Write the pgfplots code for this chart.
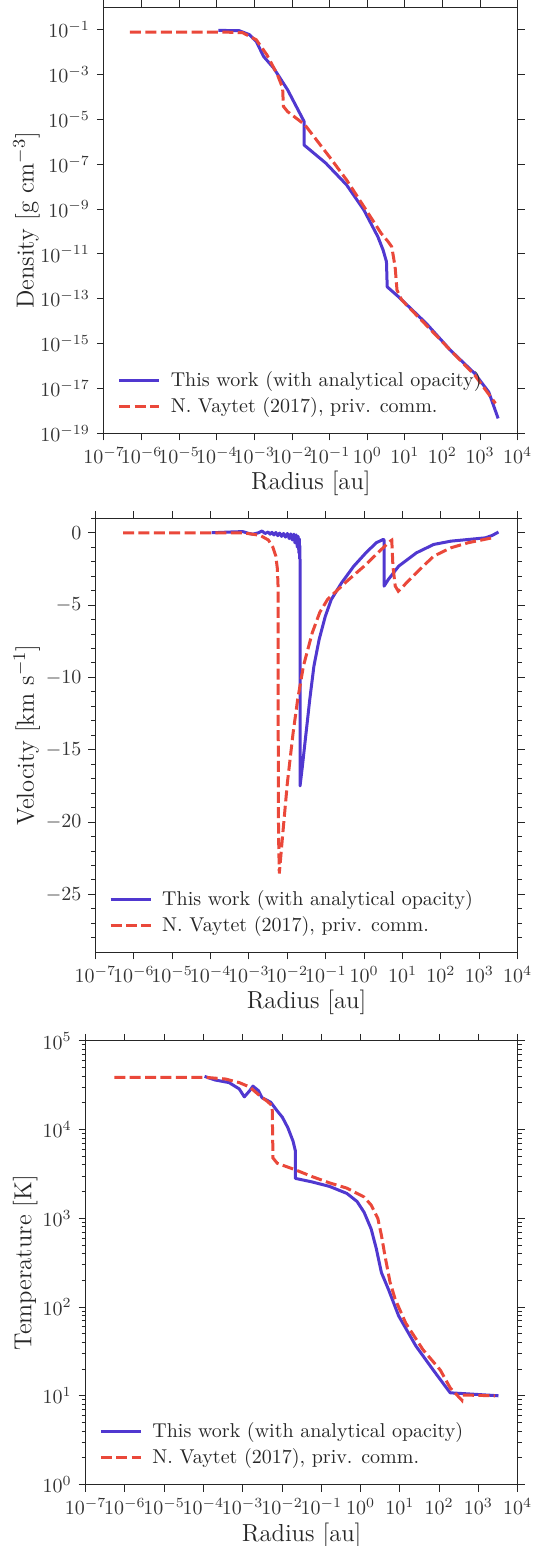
\documentclass[border=0pt]{standalone}
\usepackage{pgfplots}
\pgfplotsset{compat=1.18}
\definecolor{cblue}{RGB}{80,56,208}
\definecolor{cred}{RGB}{234,72,58}
\pgfplotsset{
  every axis/.append style={
    scale only axis,
    tick align=outside,
    major tick length=3.5pt,
    minor tick length=2pt,
    axis line style={black!85, line width=0.5pt},
    tick style={black!85, line width=0.5pt},
    tick label style={font=\fontsize{10}{12}\selectfont, text=black!80},
    label style={font=\fontsize{12.3}{14}\selectfont, text=black!85},
    legend style={at={(0,0)}, anchor=south west,
      xshift=6.7pt, yshift=6.8pt, draw=none, fill=none,
      inner xsep=0pt, inner ysep=0pt,
      font=\fontsize{10}{12}\selectfont, text=black!85, column sep=3pt},
    legend cell align=left,
  },
}
\begin{document}
\begin{tikzpicture}
\useasboundingbox (0,0) rectangle (270.5pt,773pt);
% ---------------- Density ----------------
\begin{axis}[
  at={(52pt,556.35pt)}, anchor=south west,
  width=206.85pt, height=213pt,
  xmode=log, ymode=log,
  xmin=1e-7, xmax=1e4, ymin=1e-19, ymax=1,
  xtick={1e-7,1e-6,1e-5,1e-4,1e-3,1e-2,1e-1,1,1e1,1e2,1e3,1e4},
  ytick={1e-19,1e-17,1e-15,1e-13,1e-11,1e-9,1e-7,1e-5,1e-3,1e-1},
  minor x tick style={draw=none}, minor y tick style={draw=none},
  xlabel={Radius [au]},
  xlabel style={at={(0.5,0)}, anchor=center, yshift=-24.8pt},
  ylabel={Density [g cm$^{-3}$]},
  ylabel style={at={(0,0.5)}, anchor=center, yshift=38.7pt},
  legend image code/.code={\draw[#1] (0pt,0pt) -- (20pt,0pt);},
]
\addplot[cblue, line width=1.5pt, line join=round] coordinates {(1.1e-4,9.3e-2)(3.9e-4,9.1e-2)(7.4e-4,6.0e-2)(1.12e-3,3.0e-2)(1.74e-3,6.5e-3)(3.24e-3,1.95e-3)(7.6e-3,2.1e-4)(2.09e-2,8.1e-6)(2.09e-2,7.2e-7)(7.9e-2,1.12e-7)(0.282,1.2e-8)(0.813,9.1e-10)(1.91,5.9e-11)(2.63,1.51e-11)(3.24,4.5e-12)(3.39,3.4e-13)(6.76,1.23e-13)(37.2,7.9e-15)(162,5.1e-16)(724,4.6e-17)(1700,6.9e-18)(3020,4.6e-19)};
\addlegendentry{This work (with analytical opacity)}
\addplot[cred, line width=1.5pt, dash pattern=on 5.5pt off 2.2pt] coordinates {(4.9e-7,7.9e-2)(1.32e-4,7.9e-2)(4.8e-4,7.4e-2)(1.12e-3,3.55e-2)(2.14e-3,7.6e-3)(4.07e-3,1e-3)(5.62e-3,2.51e-4)(5.89e-3,3.8e-5)(7.59e-3,2.24e-5)(2.19e-2,5.75e-6)(9.77e-2,2.19e-7)(0.282,2.0e-8)(0.813,1.29e-9)(2.34,8.3e-11)(3.55,3.6e-11)(4.47,2.09e-11)(5.5,2.69e-12)(6.17,2.45e-13)(8.3,8.7e-14)(37.2,6.6e-15)(162,5.1e-16)(724,3.9e-17)(2570,2.14e-18)};
\addlegendentry{N. Vaytet (2017), priv. comm.}
\end{axis}
% ---------------- Velocity ----------------
\begin{axis}[
  at={(47.7pt,296.85pt)}, anchor=south west,
  width=211.15pt, height=217pt,
  xmode=log,
  xmin=1e-7, xmax=1e4, ymin=-29, ymax=1,
  xtick={1e-7,1e-6,1e-5,1e-4,1e-3,1e-2,1e-1,1,1e1,1e2,1e3,1e4},
  minor x tick style={draw=none},
  ytick={-25,-20,-15,-10,-5,0},
  minor ytick={-28,-27,-26,-24,-23,-22,-21,-19,-18,-17,-16,-14,-13,-12,-11,-9,-8,-7,-6,-4,-3,-2,-1,1},
  xlabel={Radius [au]},
  xlabel style={at={(0.5,0)}, anchor=center, yshift=-24.8pt},
  ylabel={Velocity [km s$^{-1}$]},
  ylabel style={at={(0,0.5)}, anchor=center, yshift=34.3pt},
  legend image code/.code={\draw[#1] (0pt,0pt) -- (20pt,0pt);},
]
\addplot[cblue, line width=1.5pt, line join=round] coordinates {(1.07e-4,0)(3.16e-4,0.05)(6.9e-4,0.08)(1e-3,-0.05)(1.26e-3,-0.1)(1.78e-3,0)(2.19e-3,0.12)(2.63e-3,-0.05)(3.16e-3,0.05)(3.55e-3,-0.1)(3.98e-3,0.03)(4.47e-3,-0.15)(5.01e-3,0.02)(5.62e-3,-0.2)(6.31e-3,-0.02)(7.08e-3,-0.25)(7.94e-3,-0.05)(8.91e-3,-0.3)(1.0e-2,-0.05)(1.12e-2,-0.4)(1.23e-2,-0.08)(1.35e-2,-0.5)(1.48e-2,-0.1)(1.58e-2,-0.7)(1.70e-2,-0.15)(1.82e-2,-1.0)(1.91e-2,-0.25)(2.0e-2,-1.4)(2.04e-2,-0.4)(2.09e-2,-1.8)(2.11e-2,-0.9)(2.14e-2,-2.0)(2.14e-2,-17.5)(2.45e-2,-16.2)(2.80e-2,-14.8)(3.83e-2,-11.54)(4.91e-2,-9.23)(6.71e-2,-7.39)(9.75e-2,-5.77)(0.139,-4.62)(0.259,-3.46)(0.537,-2.31)(1.11,-1.39)(2.07,-0.69)(3.15,-0.46)(3.31,-0.5)(3.31,-3.69)(4.27,-3.23)(7.94,-2.31)(22.9,-1.39)(64.6,-0.81)(182,-0.58)(1450,-0.35)(2190,-0.18)(3160,0.05)};
\addlegendentry{This work (with analytical opacity)}
\addplot[cred, line width=1.5pt, dash pattern=on 5.5pt off 2.2pt] coordinates {(5.25e-7,0)(6.9e-4,0)(1.95e-3,-0.18)(3.2e-3,-0.5)(4.2e-3,-1.0)(5.0e-3,-1.6)(5.5e-3,-2.5)(5.75e-3,-3.8)(5.75e-3,-11.5)(5.89e-3,-20.8)(6.17e-3,-23.55)(7.6e-3,-20.8)(1.0e-2,-17.3)(1.41e-2,-13.85)(1.86e-2,-11.5)(2.63e-2,-9.2)(4.47e-2,-6.9)(7.0e-2,-5.5)(0.112,-4.6)(0.355,-3.35)(1.0,-2.31)(2.82,-1.15)(4.79,-0.58)(5.25,-0.51)(5.62,-2.31)(6.46,-3.69)(7.76,-4.04)(22.9,-2.77)(64.6,-1.62)(182,-1.04)(513,-0.69)(2190,-0.35)};
\addlegendentry{N. Vaytet (2017), priv. comm.}
\end{axis}
% ---------------- Temperature ----------------
\begin{axis}[
  at={(42.8pt,30.75pt)}, anchor=south west,
  width=216.05pt, height=221.8pt,
  xmode=log, ymode=log,
  xmin=1e-7, xmax=1e4, ymin=1, ymax=1e5,
  xtick={1e-7,1e-6,1e-5,1e-4,1e-3,1e-2,1e-1,1,1e1,1e2,1e3,1e4},
  minor x tick style={draw=none},
  ytick={1,10,100,1000,10000,100000},
  minor ytick={2,3,4,5,6,7,8,9,20,30,40,50,60,70,80,90,200,300,400,500,600,700,800,900,2000,3000,4000,5000,6000,7000,8000,9000,20000,30000,40000,50000,60000,70000,80000,90000},
  xlabel={Radius [au]},
  xlabel style={at={(0.5,0)}, anchor=center, yshift=-25.5pt},
  ylabel={Temperature [K]},
  ylabel style={at={(0,0.5)}, anchor=center, yshift=30.2pt},
  legend image code/.code={\draw[#1] (0pt,0pt) -- (20pt,0pt);},
]
\addplot[cblue, line width=1.5pt, line join=round] coordinates {(1.07e-4,3.98e4)(1.95e-4,3.63e4)(4.47e-4,3.39e4)(8.13e-4,2.88e4)(1.10e-3,2.34e4)(1.51e-3,2.75e4)(1.82e-3,3.09e4)(2.51e-3,2.75e4)(3.09e-3,2.29e4)(5.13e-3,2.04e4)(7.59e-3,1.62e4)(1.02e-2,1.38e4)(1.41e-2,1.05e4)(1.91e-2,7.41e3)(2.19e-2,5.75e3)(2.19e-2,2.82e3)(5.89e-2,2.57e3)(0.162,2.29e3)(0.447,1.91e3)(0.813,1.55e3)(1.23,1.17e3)(1.86,759)(2.51,457)(3.39,245)(5.13,158)(9.33,79.4)(25.7,36.3)(70.8,19.5)(191,10.8)(550,10.5)(3240,10.0)};
\addlegendentry{This work (with analytical opacity)}
\addplot[cred, line width=1.5pt, dash pattern=on 5.5pt off 2.2pt] coordinates {(5.37e-7,3.89e4)(1.07e-4,3.89e4)(3.63e-4,3.72e4)(8.13e-4,3.39e4)(1.51e-3,3.02e4)(2.75e-3,2.40e4)(4.17e-3,2.09e4)(5.62e-3,1.86e4)(5.89e-3,4.79e3)(7.59e-3,4.17e3)(2.09e-2,3.55e3)(5.89e-2,2.95e3)(0.162,2.51e3)(0.447,2.19e3)(1.23,1.74e3)(1.86,1.41e3)(2.75,1.0e3)(3.39,646)(4.17,380)(5.62,191)(7.59,123)(14.1,66)(38.9,33)(107,19.5)(191,12.3)(380,8.9)(398,10.2)(2630,10.0)};
\addlegendentry{N. Vaytet (2017), priv. comm.}
\end{axis}
\end{tikzpicture}
\end{document}
